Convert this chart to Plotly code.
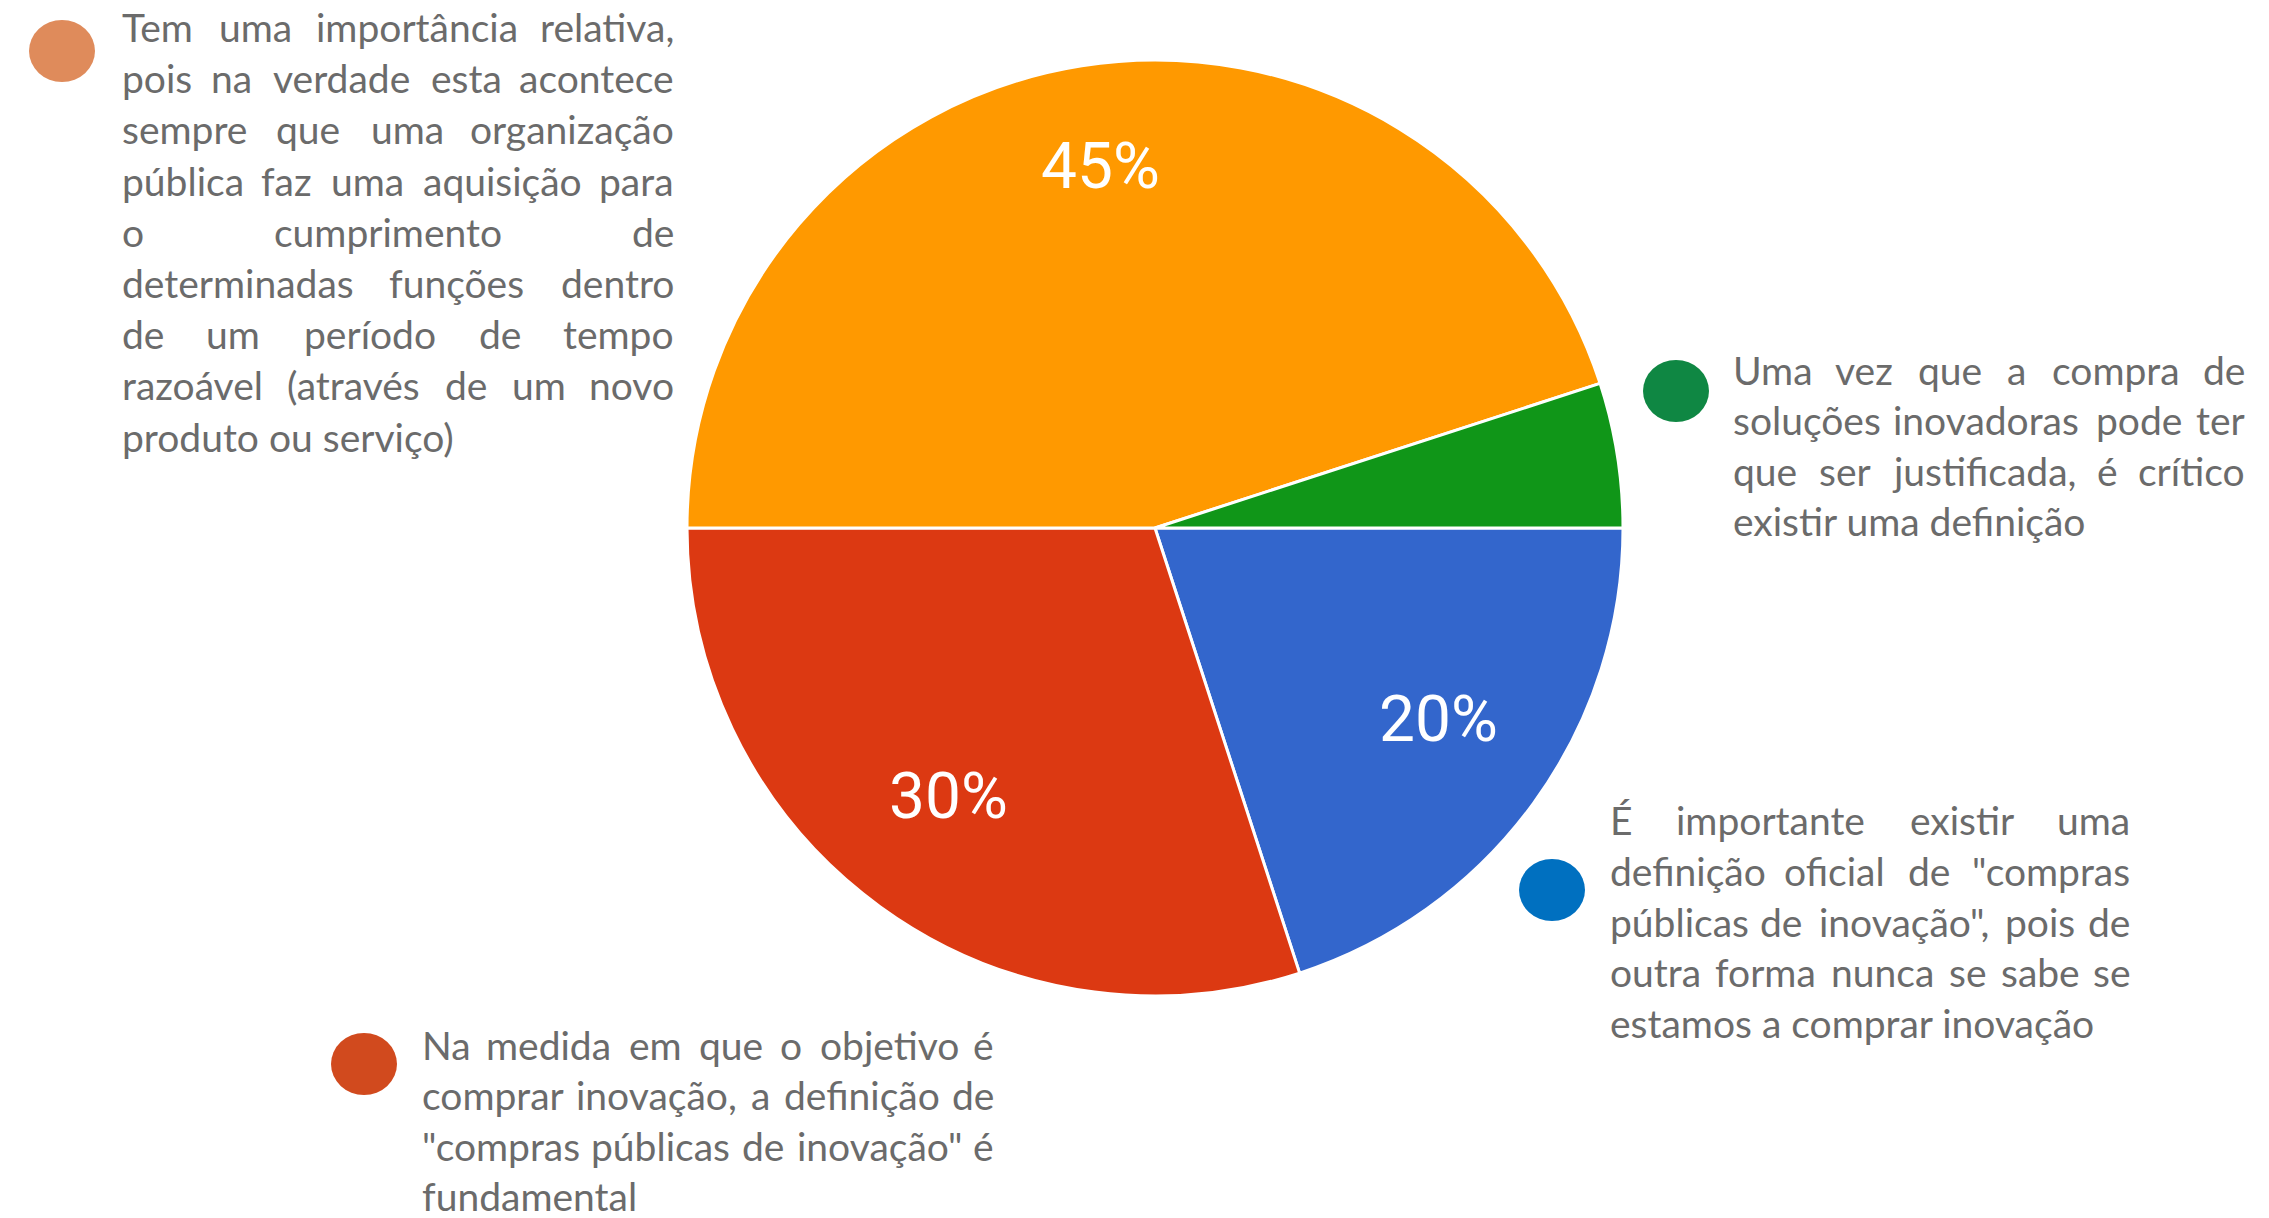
import math
import plotly.graph_objects as go

W, H = 2269, 1218
OFF = 8  # page body margin around the plot div

# pie data, clockwise from 3 o'clock
labels = [
    "É importante existir uma definição oficial",
    "Na medida em que o objetivo é comprar inovação",
    "Tem uma importância relativa",
    "Uma vez que a compra de soluções inovadoras pode ter que ser justificada",
]
values = [20, 30, 45, 5]
slice_colors = ["#3366CC", "#DC3912", "#FF9900", "#109618"]
dot_colors = ["#0070C0", "#D14A1E", "#DF8B5B", "#0F8743"]

# legend paragraphs, one entry per printed line
blue_lines = [
    "É importante existir uma",
    "definição oficial de \"compras",
    "públicas de inovação\", pois de",
    "outra forma nunca se sabe se",
    "estamos a comprar inovação",
]
red_lines = [
    "Na medida em que o objetivo é",
    "comprar inovação, a definição de",
    "\"compras públicas de inovação\" é",
    "fundamental",
]
orange_lines = [
    "Tem uma importância relativa,",
    "pois na verdade esta acontece",
    "sempre que uma organização",
    "pública faz uma aquisição para",
    "o cumprimento de",
    "determinadas funções dentro",
    "de um período de tempo",
    "razoável (através de um novo",
    "produto ou serviço)",
]
green_lines = [
    "Uma vez que a compra de",
    "soluções inovadoras pode ter",
    "que ser justificada, é crítico",
    "existir uma definição",
]

FONT = "Lato"
FSIZE = 39
TEXT_COLOR = "#6b6b6b"
PCT_SIZE = 64

# rough Lato advance widths (em)
CHAR_W = {
    " ": 0.193, "a": 0.49, "b": 0.56, "c": 0.46, "d": 0.56, "e": 0.52, "f": 0.32,
    "g": 0.50, "h": 0.56, "i": 0.24, "j": 0.24, "k": 0.50, "l": 0.24, "m": 0.84,
    "n": 0.56, "o": 0.56, "p": 0.56, "q": 0.56, "r": 0.37, "s": 0.42, "t": 0.36,
    "u": 0.56, "v": 0.51, "w": 0.77, "x": 0.49, "y": 0.51, "z": 0.45, ",": 0.22,
    "(": 0.31, ")": 0.31, "\"": 0.37, "T": 0.56, "U": 0.69, "N": 0.75, "É": 0.57,
}
ACCENTS = str.maketrans("áâãàéêíóôõúç", "aaaaeeiooouc")


def text_width(s):
    return sum(CHAR_W.get(c, CHAR_W.get(c.translate(ACCENTS), 0.5)) for c in s) * FSIZE


def px_x(x):
    return (x - OFF) / W


def px_y(y):
    return 1 - (y - OFF) / H


# (lines, left, right, first baseline, line step, dot centre)
blocks = [
    (blue_lines, 1608, 2132, 835, 50.8, (1552, 890), dot_colors[0]),
    (red_lines, 420, 996, 1060, 50.4, (364, 1064), dot_colors[1]),
    (orange_lines, 120, 676, 42, 51.2, (62, 51), dot_colors[2]),
    (green_lines, 1731, 2247, 385, 50.5, (1676, 391), dot_colors[3]),
]

annotations = []
shapes = []
for lines, left, right, base0, step, (cx, cy), dcol in blocks:
    shapes.append(dict(
        type="circle", xref="paper", yref="paper",
        x0=px_x(cx - 33), x1=px_x(cx + 33), y0=px_y(cy + 31), y1=px_y(cy - 31),
        fillcolor=dcol, line=dict(width=0),
    ))
    for i, line in enumerate(lines):
        yc = base0 + i * step - 0.387 * FSIZE
        words = line.split(" ")
        last = i == len(lines) - 1
        if last or len(words) == 1:
            annotations.append(dict(
                x=px_x(left), y=px_y(yc), xref="paper", yref="paper",
                text=line, showarrow=False, xanchor="left", yanchor="middle",
                font=dict(family=FONT, size=FSIZE, color=TEXT_COLOR),
            ))
            continue
        widths = [text_width(w) for w in words]
        gap = (right - left - sum(widths)) / (len(words) - 1)
        pos = left
        for j, (w, ww) in enumerate(zip(words, widths)):
            if j == 0:
                x, anchor = left, "left"
            elif j == len(words) - 1:
                x, anchor = right, "right"
            else:
                x, anchor = pos + ww / 2, "center"
            annotations.append(dict(
                x=px_x(x), y=px_y(yc), xref="paper", yref="paper",
                text=w, showarrow=False, xanchor=anchor, yanchor="middle",
                font=dict(family=FONT, size=FSIZE, color=TEXT_COLOR),
            ))
            pos += ww + gap

# pie circle: centre (1155, 528), radius 468 px
pcx, pcy, pr = 1155, 528, 468

# percentage labels at 3/4 radius along each slice's mid angle
total = sum(values)
cum = 0
for v in values:
    mid = (cum + v / 2) / total * 2 * math.pi  # clockwise from 3 o'clock
    cum += v
    if v < 10:
        continue
    lx = pcx + 0.75 * pr * math.cos(mid)
    ly = pcy + 0.75 * pr * math.sin(mid) - 15
    annotations.append(dict(
        x=px_x(lx), y=px_y(ly), xref="paper", yref="paper",
        text=f"{round(100 * v / total)}%", showarrow=False,
        xanchor="center", yanchor="middle",
        font=dict(family="Roboto", size=PCT_SIZE, color="white"),
    ))

fig = go.Figure(go.Pie(
    labels=labels,
    values=values,
    sort=False,
    direction="clockwise",
    rotation=90,
    marker=dict(colors=slice_colors, line=dict(color="white", width=3)),
    textinfo="none",
    domain=dict(x=[px_x(pcx - pr), px_x(pcx + pr)], y=[px_y(pcy + pr), px_y(pcy - pr)]),
    showlegend=False,
    hoverinfo="skip",
))

fig.update_layout(
    width=W,
    height=H,
    margin=dict(l=0, r=0, t=0, b=0),
    paper_bgcolor="white",
    plot_bgcolor="white",
    annotations=annotations,
    shapes=shapes,
)

fig.write_html("out.html")
